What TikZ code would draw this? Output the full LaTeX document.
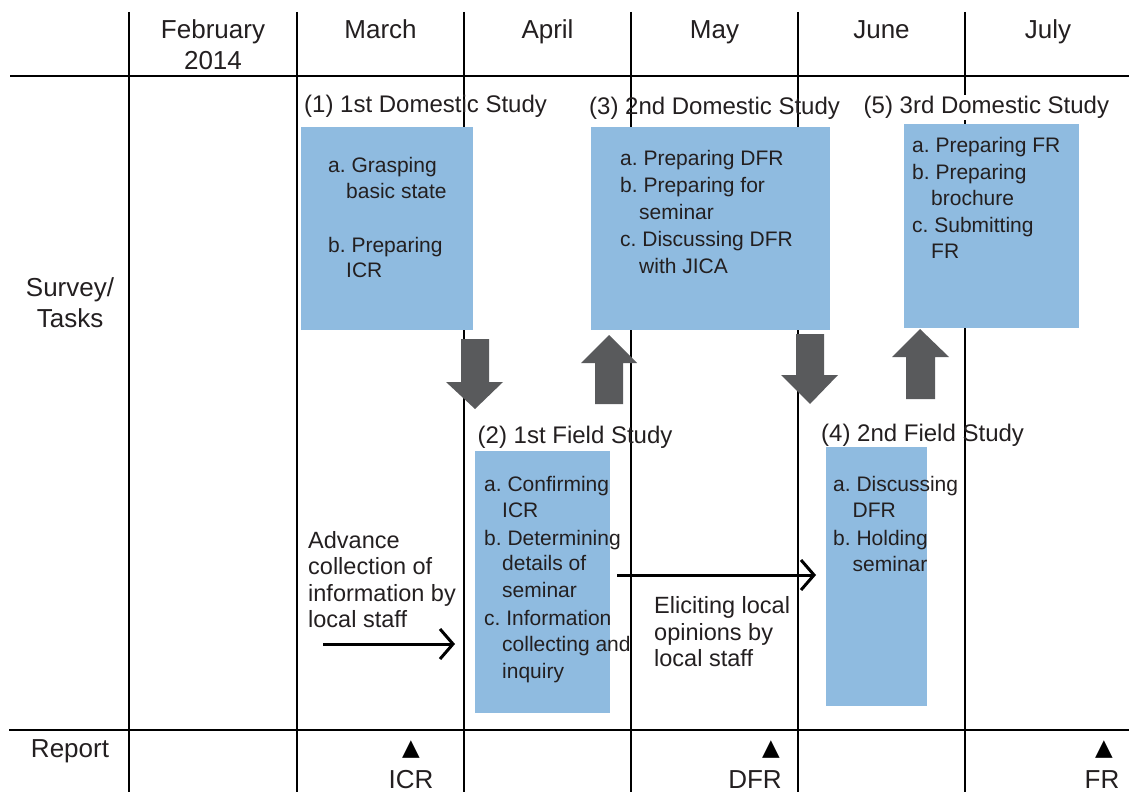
\documentclass[tikz,border=0pt]{standalone}
\usepackage{fontspec}
\setmainfont{Liberation Sans}
\newfontfamily\symfont{DejaVu Sans}
\usetikzlibrary{arrows.meta}
\definecolor{boxblue}{HTML}{8FBBE0}
\definecolor{arrowgray}{HTML}{595A5C}
\definecolor{ink}{HTML}{231F20}
\frenchspacing
\begin{document}
\frenchspacing
\begin{tikzpicture}[x=1pt,y=-1pt,
  gridline/.style={line width=2pt, black},
  bluebox/.style={fill=boxblue, draw=none, inner sep=0pt, anchor=north west},
  hdr/.style={font=\frenchspacing\fontsize{26}{31}\selectfont, text=ink, inner sep=0pt, anchor=base},
  lbl/.style={font=\frenchspacing\fontsize{24}{28}\selectfont, text=ink, inner sep=0pt, anchor=base west},
  itemtext/.style={font=\frenchspacing\fontsize{21}{25}\selectfont, text=ink, inner sep=0pt, anchor=base west},
  freetext/.style={font=\frenchspacing\fontsize{23.5}{28}\selectfont, text=ink, inner sep=0pt, anchor=base west},
  tri/.style={font=\symfont\fontsize{23}{26}\selectfont, text=black, inner sep=0pt, anchor=base},
  blockarrow/.style={fill=arrowgray, draw=none},
  flow/.style={line width=3pt, black, -{Straight Barb[length=13pt,width=30pt,line width=3pt]}}
]
\useasboundingbox (0,0) rectangle (1129,792);

% grid
\foreach \gx in {129,297,464,631,798,965} {\draw[gridline] (\gx,12) -- (\gx,792);}
\draw[line width=2.5pt] (10,76) -- (1129,76);
\draw[line width=2.5pt] (9,730) -- (1129,730);

% header
\node[hdr] (hfeb) at (213,39) {February};
\node[hdr] (hyear) at (213,70) {2014};
\node[hdr] (hmar) at (380.5,39) {March};
\node[hdr] (hapr) at (547.5,39) {April};
\node[hdr] (hmay) at (714.5,39) {May};
\node[hdr] (hjun) at (881.5,39) {June};
\node[hdr] (hjul) at (1048,39) {July};
\node[hdr] (rsurvey) at (70,296) {Survey/};
\node[hdr] (rtasks) at (70,327) {Tasks};
\node[hdr] (rreport) at (70,757) {Report};

% boxes
\node[bluebox, minimum width=172pt, minimum height=203pt] (box1) at (301,127) {};
\node[bluebox, minimum width=239pt, minimum height=203pt] (box3) at (591,127) {};
\node[bluebox, minimum width=175pt, minimum height=204pt] (box5) at (904,124) {};
\node[bluebox, minimum width=135pt, minimum height=262pt] (box2) at (475,451) {};
\node[bluebox, minimum width=101pt, minimum height=259pt] (box4) at (826,447) {};

% block arrows
\fill[blockarrow] (461,339) -- (489,339) -- (489,382) -- (503,382) -- (475,409) -- (446,382) -- (461,382) -- cycle;
\fill[blockarrow] (595,404) -- (623,404) -- (623,363) -- (637,363) -- (609,335) -- (581,363) -- (595,363) -- cycle;
\fill[blockarrow] (796,334) -- (824,334) -- (824,375) -- (838,375) -- (810,404) -- (781,375) -- (796,375) -- cycle;
\fill[blockarrow] (906,399) -- (935,399) -- (935,357) -- (949,357) -- (920,329) -- (892,357) -- (906,357) -- cycle;

% labels
\node[lbl] (l1) at (304,112.5) {(1) 1st Domestic Study};
\node[lbl] (l3) at (589,114.5) {(3) 2nd Domestic Study};
\node[lbl, fill=white, inner sep=1.5pt] (l5) at (862,113.5) {(5) 3rd Domestic Study};
\node[lbl] (l2) at (477.5,443.5) {(2) 1st Field Study};
\node[lbl] (l4) at (821,441.5) {(4) 2nd Field Study};

% box 1 text
\node[itemtext] (b1a) at (328,172.5) {a. Grasping};
\node[itemtext] (b1a2) at (346,198.5) {basic state};
\node[itemtext] (b1b) at (328,252.5) {b. Preparing};
\node[itemtext] (b1b2) at (346,277.5) {ICR};

% box 3 text
\node[itemtext] (b3a) at (620,165.5) {a. Preparing DFR};
\node[itemtext] (b3b) at (620,192.5) {b. Preparing for};
\node[itemtext] (b3b2) at (639,219.5) {seminar};
\node[itemtext] (b3c) at (620,246.5) {c. Discussing DFR};
\node[itemtext] (b3c2) at (639,273.5) {with JICA};

% box 5 text
\node[itemtext] (b5a) at (912,152.5) {a. Preparing FR};
\node[itemtext] (b5b) at (912,179.5) {b. Preparing};
\node[itemtext] (b5b2) at (931,205.5) {brochure};
\node[itemtext] (b5c) at (912,232.5) {c. Submitting};
\node[itemtext] (b5c2) at (931,258.5) {FR};

% box 2 text
\node[itemtext] (b2a) at (484,491.5) {a. Confirming};
\node[itemtext] (b2a2) at (502,517.5) {ICR};
\node[itemtext] (b2b) at (484,545.5) {b. Determining};
\node[itemtext] (b2b2) at (502,570.5) {details of};
\node[itemtext] (b2b3) at (502,597.5) {seminar};
\node[itemtext] (b2c) at (484,625.5) {c. Information};
\node[itemtext] (b2c2) at (502,651.5) {collecting and};
\node[itemtext] (b2c3) at (502,678.5) {inquiry};

% box 4 text
\node[itemtext] (b4a) at (833,491.5) {a. Discussing};
\node[itemtext] (b4a2) at (852.5,517.5) {DFR};
\node[itemtext] (b4b) at (833,545.5) {b. Holding};
\node[itemtext] (b4b2) at (852.5,571.5) {seminar};

% free texts
\node[freetext] (adv1) at (308,548.5) {Advance};
\node[freetext] (adv2) at (308,574.5) {collection of};
\node[freetext] (adv3) at (308,601.5) {information by};
\node[freetext] (adv4) at (308,627.5) {local staff};
\node[freetext] (eli1) at (654,613) {Eliciting local};
\node[freetext] (eli2) at (654,640) {opinions by};
\node[freetext] (eli3) at (654,666) {local staff};

% flow arrows
\coordinate (advs) at (323,644);
\coordinate (adve) at (455,644);
\draw[flow] (advs) -- (adve);
\coordinate (elis) at (617,575);
\coordinate (elie) at (816,575);
\draw[flow] (elis) -- (elie);

% report row
\node[tri] (t1) at (411,755) {▲};
\node[tri] (t2) at (771,755) {▲};
\node[tri] (t3) at (1104,755) {▲};
\node[hdr] (ricr) at (411,788) {ICR};
\node[hdr] (rdfr) at (755,788) {DFR};
\node[hdr] (rfr) at (1102,788) {FR};
\end{tikzpicture}
\end{document}
